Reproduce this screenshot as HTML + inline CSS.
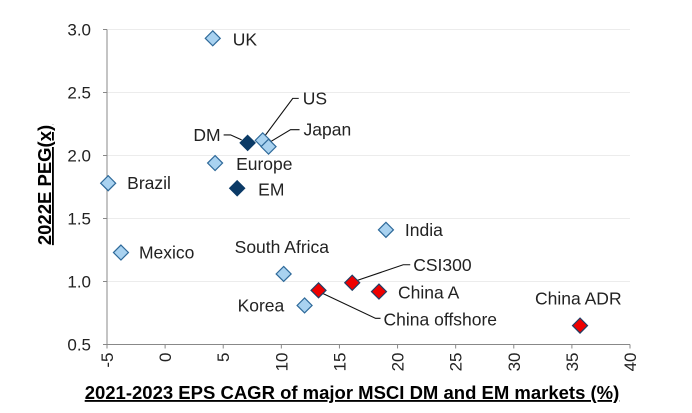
<!DOCTYPE html>
<html><head><meta charset="utf-8"><style>
html,body{margin:0;padding:0;background:#fff;}
svg{display:block;font-family:"Liberation Sans",Arial,sans-serif;}
</style></head><body>
<svg id="chart" width="692" height="413" viewBox="0 0 692 413" xmlns="http://www.w3.org/2000/svg">
<g id="grid"></g><g id="axes"></g><g id="leaders"></g><g id="marks"></g><g id="labels"></g>
<text x="0" y="0" transform="translate(51,185) rotate(-90)" text-anchor="middle" font-size="18.5" font-weight="bold" text-decoration="underline" fill="#000">2022E PEG(x)</text>
<text x="352" y="399" text-anchor="middle" font-size="18.5" font-weight="bold" text-decoration="underline" fill="#000">2021-2023 EPS CAGR of major MSCI DM and EM markets (%)</text>
</svg>
<script>
const names=["UK","US","Japan","DM","Europe","EM","Brazil","Mexico","India","South Africa","CSI300","China offshore","China A","Korea","China ADR"];
const epsGrowth=[4.1,8.4,8.9,7.1,4.3,6.2,-4.9,-3.8,19.0,10.2,16.1,13.2,18.4,12.0,35.7];
const peg=[2.93,2.12,2.07,2.10,1.94,1.74,1.78,1.23,1.41,1.06,0.99,0.93,0.92,0.81,0.65];
const groups=["mkt","mkt","mkt","agg","mkt","agg","mkt","mkt","mkt","mkt","china","china","china","mkt","china"];
const xTicks=[-5,0,5,10,15,20,25,30,35,40];
const yTicks=[0.5,1.0,1.5,2.0,2.5,3.0];
const labelPos=[[20,7,"start"],[null,null],[null,null],[null,null],[21,7,"start"],[21,7,"start"],[19,6,"start"],[18,6,"start"],[19,6,"start"],[-49,-21,"start"],[null,null],[null,null],[19,7,"start"],[-67,6,"start"],[-45,-21,"start"]];
const NS="http://www.w3.org/2000/svg";
const X0=107,X1=630,Y0=344.5,Y1=29.5;
const FS=17.5;
const xs=v=>X0+(v+5)/45*(X1-X0);
const ys=v=>Y0-(v-0.5)/2.5*(Y0-Y1);
function mk(t,a,p){const e=document.createElementNS(NS,t);for(const k in a)e.setAttribute(k,a[k]);document.getElementById(p).appendChild(e);return e;}
yTicks.forEach(v=>{
  if(v>0.5){const g=mk("line",{x1:X0,x2:X1,y1:ys(v),y2:ys(v),stroke:"#ececec","stroke-width":1},"grid");
  
  }
  const tk=mk("line",{x1:X0-4,x2:X0,y1:ys(v),y2:ys(v),stroke:"#888"},"axes");
  
  
  const t=mk("text",{x:X0-16,y:ys(v)+6,"text-anchor":"end","font-size":17,fill:"#222"},"axes");
  t.textContent=v.toFixed(1);
  
  
});
let ax=mk("line",{x1:X0,x2:X0,y1:Y1,y2:Y0,stroke:"#888"},"axes");


ax=mk("line",{x1:X0,x2:X1,y1:Y0,y2:Y0,stroke:"#888"},"axes");


xTicks.forEach(v=>{
  const tk=mk("line",{x1:xs(v),x2:xs(v),y1:Y0,y2:Y0+4,stroke:"#888"},"axes");
  
  
  const t=mk("text",{x:0,y:0,transform:`translate(${xs(v)+6},${Y0+8}) rotate(-90)`,"text-anchor":"end","font-size":17,fill:"#222"},"axes");
  t.textContent=String(v);
  
  
});
const fills={mkt:"#a9d2f0",agg:"#0b3a66",china:"#ee0000"};
const strokes={mkt:"#2f6a9a",agg:"#0b3a66",china:"#1f3f66"};
names.forEach((n,i)=>{
  const x=xs(epsGrowth[i]),y=ys(peg[i]),r=7.5;
  const d=mk("polygon",{points:`${x},${y-r} ${x+r},${y} ${x},${y+r} ${x-r},${y}`,fill:fills[groups[i]],stroke:strokes[groups[i]],"stroke-width":1.2},"marks");
  
  
  const lp=labelPos[i];
  let tx,ty,anc="start";
  if(lp[0]!==null){tx=x+lp[0];ty=y+lp[1];anc=lp[2];}
  else{
    let pts;
    if(n==="US"){pts=[[x+1,y-3],[x+30,y-42],[x+36,y-42]];tx=x+40;ty=y-36;}
    else if(n==="Japan"){pts=[[x-3,y-2],[x+22,y-17],[x+31,y-17]];tx=x+35;ty=y-11;}
    else if(n==="DM"){pts=[[x-6,y-3],[x-17,y-8],[x-24,y-8]];tx=x-27;ty=y-2;anc="end";}
    else if(n==="CSI300"){pts=[[x+4,y-2],[x+51,y-18],[x+58,y-18]];tx=x+61;ty=y-12;}
    else {pts=[[x+2,y+2],[x+57,y+28],[x+62,y+28]];tx=x+65;ty=y+35;}
    const l=mk("polyline",{points:pts.map(p=>p.join(",")).join(" "),fill:"none",stroke:"#111","stroke-width":1.1},"leaders");
    
    
  }
  const t=mk("text",{x:tx,y:ty,"text-anchor":anc,"font-size":FS,fill:"#222"},"labels");
  t.textContent=n;
  
  
});
</script>
</body></html>
